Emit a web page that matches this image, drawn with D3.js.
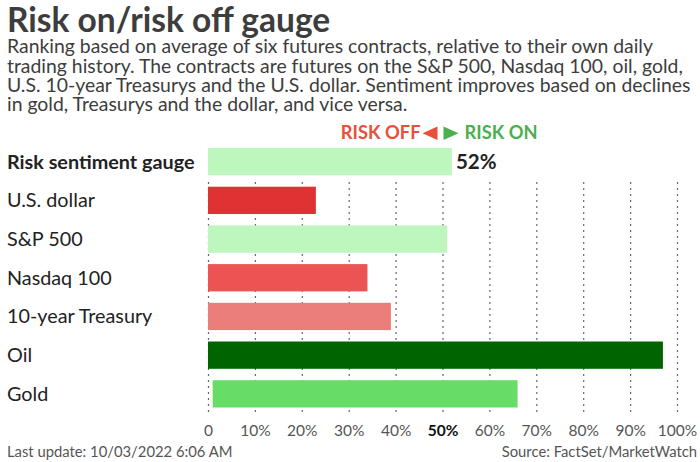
<!DOCTYPE html>
<html>
<head>
<meta charset="utf-8">
<script src="https://cdn.jsdelivr.net/npm/d3@7"></script>
<style>
  body { margin: 0; background: #fff; }
  #chart { position: relative; width: 700px; height: 462px; }
  svg { font-family: Lato, sans-serif; display: block; }
  .hd { position: absolute; left: 7px; font-family: Lato, sans-serif; color: #3d3d3d; white-space: nowrap; }
</style>
</head>
<body>
<div id="chart"></div>
<script>
// data
const categories = ["Risk sentiment gauge", "U.S. dollar", "S&P 500", "Nasdaq 100", "10-year Treasury", "Oil", "Gold"];
const values = [52, 23, 51, 34, 39, 97, 66];
const starts = [0, 0, 0, 0, 0, 0, 1];
const colors = ["#bdf7bd", "#e03232", "#bdf7bd", "#ec5454", "#eb7d7a", "#006400", "#66dd66"];
const ticks = [0, 10, 20, 30, 40, 50, 60, 70, 80, 90, 100];

const W = 700, H = 462;
const chart = d3.select("#chart");
const svg = chart.append("svg")
  .attr("width", W).attr("height", H);

// title + subtitle (html blocks, tight line boxes)
chart.append("div").attr("class", "hd")
  .style("top", "2px").style("font-size", "33.5px").style("line-height", "34px")
  .style("font-weight", "700")
  .text("Risk on/risk off gauge");

const sub = [
  "Ranking based on average of six futures contracts, relative to their own daily",
  "trading history. The contracts are futures on the S&P 500, Nasdaq 100, oil, gold,",
  "U.S. 10-year Treasurys and the U.S. dollar. Sentiment improves based on declines",
  "in gold, Treasurys and the dollar, and vice versa."
];
chart.append("div").attr("class", "hd")
  .style("top", "36.2px").style("font-size", "19.4px").style("line-height", "19.4px")
  .html(sub.map(s => s.replace(/&/g, "&amp;")).join("<br>"));

// scales
const x = d3.scaleLinear().domain([0, 100]).range([208, 677]);
const y = d3.scaleBand().domain(categories).range([148, 407.5]).paddingInner(0.295).paddingOuter(0);

// gridlines (not behind the gauge row)
svg.append("g").selectAll("line").data(ticks).enter().append("line")
  .attr("x1", d => x(d) + 0.5).attr("x2", d => x(d) + 0.5)
  .attr("y1", 182).attr("y2", 416)
  .attr("stroke", "#666").attr("stroke-width", 1.2)
  .attr("stroke-dasharray", "2,4");

// RISK OFF / RISK ON
const mid = x(50) - 2;
const ro = svg.append("g");
ro.append("text").attr("x", mid - 20).attr("y", 139)
  .attr("text-anchor", "end").attr("font-size", 18.3).attr("font-weight", 700)
  .attr("fill", "#e8503a").text("RISK OFF");
ro.append("path").attr("d", `M${mid - 3},126.5 L${mid - 3},140 L${mid - 18},133.2 Z`).attr("fill", "#e8503a");
ro.append("path").attr("d", `M${mid + 3},126.5 L${mid + 3},140 L${mid + 18},133.2 Z`).attr("fill", "#4caf50");
ro.append("text").attr("x", mid + 24).attr("y", 139)
  .attr("font-size", 18.3).attr("font-weight", 700)
  .attr("fill", "#4caf50").text("RISK ON");

// bars
svg.append("g").selectAll("rect").data(categories).enter().append("rect")
  .attr("x", (d, i) => x(starts[i]))
  .attr("y", d => y(d))
  .attr("width", (d, i) => x(values[i]) - x(starts[i]))
  .attr("height", y.bandwidth())
  .attr("fill", (d, i) => colors[i]);

// category labels
svg.append("g").selectAll("text").data(categories).enter().append("text")
  .attr("x", 7).attr("y", d => y(d) + y.bandwidth() / 2 + 7)
  .attr("font-size", 19.8).attr("fill", "#222")
  .attr("font-weight", (d, i) => i === 0 ? 700 : 400)
  .text(d => d);

// gauge value
svg.append("text")
  .attr("x", x(values[0]) + 4).attr("y", y(categories[0]) + y.bandwidth() / 2 + 7.5)
  .attr("font-size", 20.5).attr("font-weight", 700).attr("fill", "#222")
  .text(values[0] + "%");

// x axis
const axis = svg.append("g")
  .attr("transform", "translate(0,416)")
  .call(d3.axisBottom(x).tickValues(ticks).tickSize(0).tickPadding(9)
    .tickFormat(d => d === 0 ? "0" : d + "%"));
axis.select(".domain").remove();
axis.selectAll("text")
  .attr("font-family", "Lato, sans-serif").attr("font-size", 15.5)
  .attr("fill", d => d === 50 ? "#111" : "#555")
  .attr("font-weight", d => d === 50 ? 700 : 400);

// footer
svg.append("text").attr("x", 7).attr("y", 457)
  .attr("font-size", 14.8).attr("fill", "#555")
  .text("Last update: 10/03/2022 6:06 AM");
svg.append("text").attr("x", 697).attr("y", 457)
  .attr("text-anchor", "end").attr("font-size", 14.8).attr("fill", "#555")
  .text("Source: FactSet/MarketWatch");
</script>
</body>
</html>
